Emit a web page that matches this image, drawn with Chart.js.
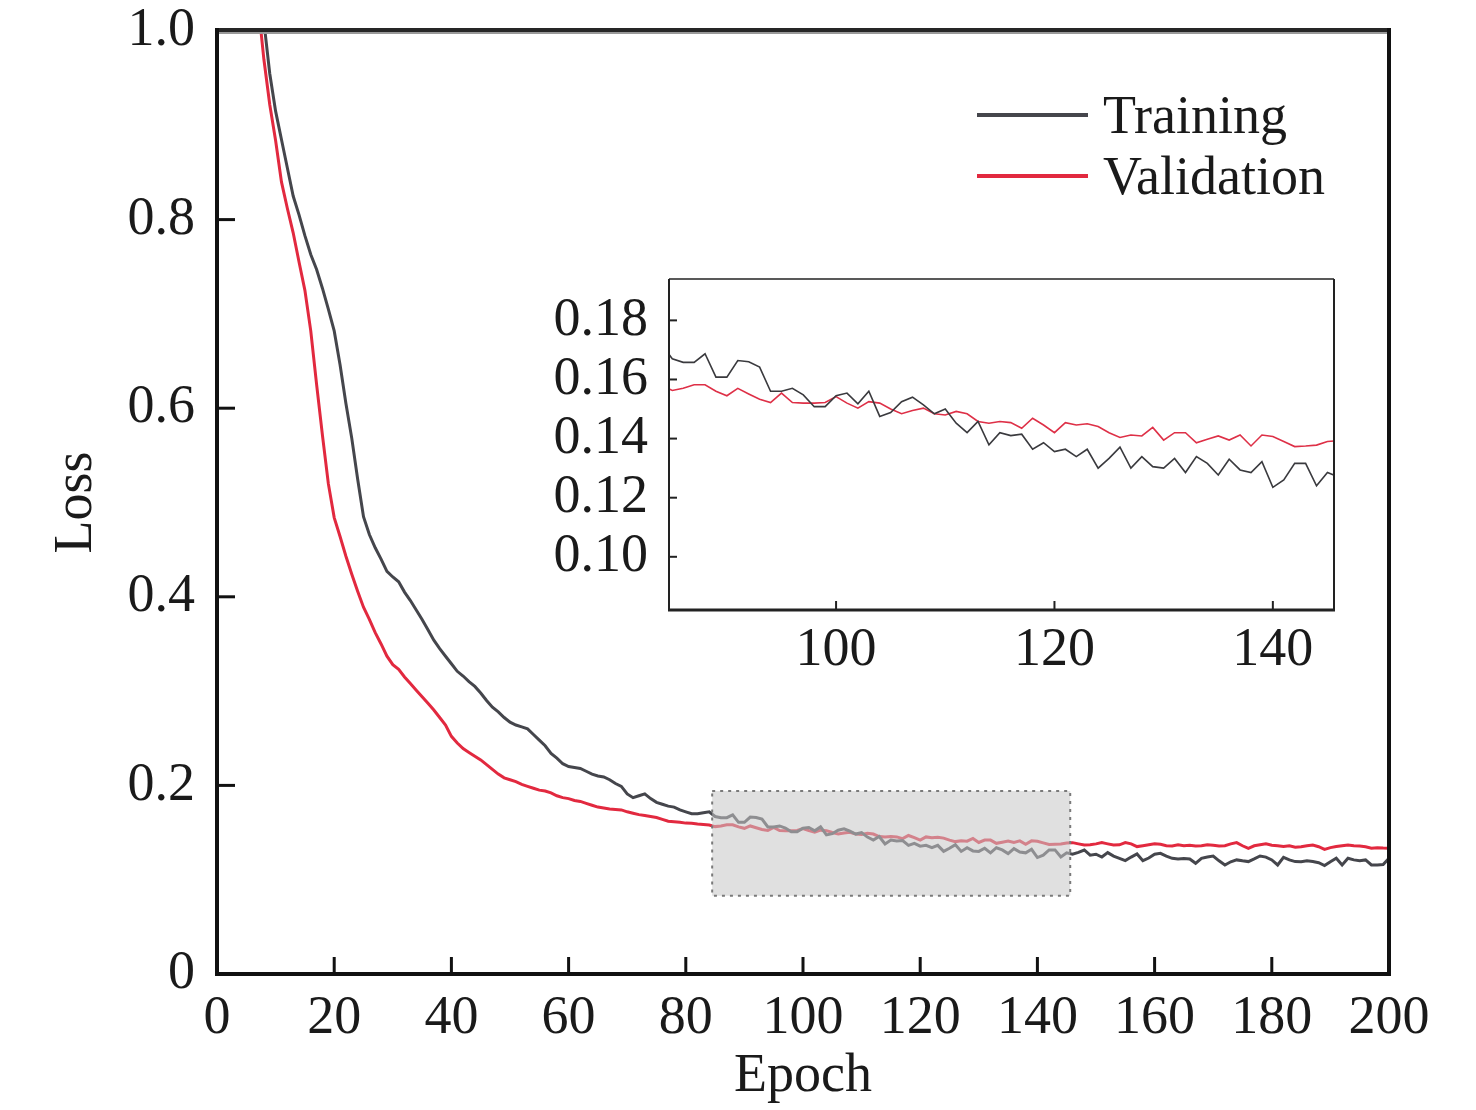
<!DOCTYPE html>
<html>
<head>
<meta charset="utf-8">
<script src="https://cdn.jsdelivr.net/npm/chart.js@4.4.0/dist/chart.umd.min.js"></script>
<style>
  html, body { margin: 0; padding: 0; background: #fff; }
  #wrap { position: relative; width: 1476px; height: 1110px; }
  .box { position: absolute; }
</style>
</head>
<body>
<div id="wrap">
  <div class="box" style="left:0;top:0;"><canvas id="main" width="1476" height="1110"></canvas></div>
  <div class="box" style="left:540px;top:270px;"><canvas id="inset" width="810" height="410"></canvas></div>
</div>
<script>
// data
const epochs = Array.from({ length: 200 }, (_, i) => i + 1);

const trainLoss = [
  1.60, 1.48, 1.38, 1.29, 1.21, 1.14, 1.07, 1.01, 0.955, 0.915,
  0.885, 0.855, 0.825, 0.805, 0.783, 0.763, 0.747, 0.727, 0.705, 0.682,
  0.646, 0.605, 0.568, 0.525, 0.485, 0.466, 0.452, 0.440, 0.427, 0.421,
  0.416, 0.405, 0.396, 0.386, 0.376, 0.365, 0.354, 0.345, 0.337, 0.329,
  0.321, 0.316, 0.310, 0.305, 0.298, 0.290, 0.283, 0.278, 0.272, 0.267,
  0.264, 0.262, 0.260, 0.254, 0.248, 0.242, 0.234, 0.229, 0.223, 0.220,
  0.219, 0.218, 0.215, 0.212, 0.210, 0.209, 0.206, 0.202, 0.199, 0.191,
  0.187, 0.189, 0.191, 0.186, 0.182, 0.180, 0.178, 0.177, 0.174, 0.172,
  0.170, 0.170, 0.171, 0.172, 0.167, 0.1658, 0.1658, 0.1687, 0.1608, 0.1608,
  0.1664, 0.166, 0.1642, 0.156, 0.156, 0.157, 0.1548, 0.1508, 0.1508, 0.1545,
  0.1554, 0.1518, 0.156, 0.1475, 0.1488, 0.1525, 0.154, 0.1514, 0.1484, 0.150,
  0.1452, 0.142, 0.1458, 0.1379, 0.142, 0.141, 0.1415, 0.1364, 0.1386, 0.1356,
  0.1364, 0.1339, 0.1364, 0.130, 0.1333, 0.1371, 0.130, 0.1339, 0.1305, 0.130,
  0.1333, 0.1285, 0.1339, 0.1316, 0.1277, 0.133, 0.1294, 0.1285, 0.1322, 0.1235,
  0.126, 0.1316, 0.1316, 0.124, 0.1285, 0.127, 0.129, 0.1315, 0.126, 0.127,
  0.124, 0.1287, 0.125, 0.1227, 0.1202, 0.124, 0.1273, 0.1202, 0.123, 0.127,
  0.128, 0.125, 0.1227, 0.122, 0.1225, 0.122, 0.1174, 0.1227, 0.124, 0.1251,
  0.120, 0.1156, 0.119, 0.121, 0.120, 0.1192, 0.122, 0.1251, 0.124, 0.121,
  0.1156, 0.1237, 0.121, 0.1192, 0.119, 0.120, 0.1192, 0.118, 0.115, 0.119,
  0.1227, 0.1156, 0.1227, 0.121, 0.1202, 0.121, 0.1156, 0.1156, 0.116, 0.1227
];

const valLoss = [
  1.55, 1.43, 1.33, 1.24, 1.16, 1.09, 1.03, 0.97, 0.922, 0.884,
  0.840, 0.812, 0.786, 0.755, 0.725, 0.682, 0.625, 0.571, 0.520, 0.484,
  0.464, 0.443, 0.424, 0.406, 0.389, 0.376, 0.362, 0.350, 0.337, 0.328,
  0.323, 0.315, 0.308, 0.301, 0.294, 0.287, 0.280, 0.272, 0.264, 0.252,
  0.245, 0.239, 0.235, 0.231, 0.227, 0.222, 0.217, 0.212, 0.208, 0.206,
  0.204, 0.201, 0.199, 0.197, 0.195, 0.194, 0.192, 0.189, 0.187, 0.186,
  0.184, 0.183, 0.181, 0.179, 0.177, 0.176, 0.175, 0.1745, 0.174, 0.172,
  0.1705, 0.169, 0.168, 0.167, 0.166, 0.164, 0.162, 0.1615, 0.161, 0.160,
  0.1598, 0.159, 0.1585, 0.158, 0.1563, 0.157, 0.1582, 0.1582, 0.156, 0.1545,
  0.157, 0.1551, 0.1533, 0.1522, 0.1554, 0.1522, 0.152, 0.152, 0.1522, 0.1542,
  0.152, 0.1503, 0.1525, 0.152, 0.150, 0.1484, 0.1495, 0.1503, 0.1484, 0.148,
  0.1492, 0.1484, 0.1458, 0.1452, 0.1458, 0.1454, 0.1435, 0.1469, 0.1446, 0.142,
  0.1454, 0.1446, 0.145, 0.1441, 0.142, 0.1404, 0.1412, 0.1409, 0.1438, 0.1395,
  0.142, 0.142, 0.1386, 0.1398, 0.1409, 0.1395, 0.1412, 0.1375, 0.1412, 0.1407,
  0.139, 0.1373, 0.1375, 0.1378, 0.139, 0.1393, 0.138, 0.1368, 0.137, 0.138,
  0.1393, 0.138, 0.1368, 0.137, 0.1393, 0.138, 0.1351, 0.136, 0.137, 0.138,
  0.1375, 0.136, 0.1358, 0.137, 0.136, 0.1365, 0.1358, 0.136, 0.137, 0.1365,
  0.1358, 0.136, 0.138, 0.1393, 0.136, 0.1333, 0.136, 0.137, 0.138, 0.1365,
  0.136, 0.1351, 0.136, 0.1344, 0.135, 0.136, 0.1368, 0.135, 0.1322, 0.134,
  0.1351, 0.136, 0.1368, 0.136, 0.1358, 0.135, 0.1333, 0.134, 0.1335, 0.1333
];

const xTicks = [0, 20, 40, 60, 80, 100, 120, 140, 160, 180, 200];
const yTicks = [0, 0.2, 0.4, 0.6, 0.8, 1.0];
const insetXTicks = [100, 120, 140];
const insetYTicks = [0.10, 0.12, 0.14, 0.16, 0.18];
const zoomX = [84.5, 145.6];
const zoomY = [0.083, 0.194];

const FONT = '"Liberation Serif", "Times New Roman", serif';
const TEXT = '#1a1a1a';
const TRAIN_COLOR = '#45464c';
const VAL_COLOR = '#e2293f';

function points(ys) {
  return epochs.map((e, i) => ({ x: e, y: ys[i] }));
}

function line(ctx, x0, y0, x1, y1) {
  ctx.beginPath();
  ctx.moveTo(x0, y0);
  ctx.lineTo(x1, y1);
  ctx.stroke();
}

// keep the label overflow from moving the plot area
function noPadX(s, h) {
  s.height = h;
  s.paddingLeft = 0;
  s.paddingRight = 0;
}
function noPadY(s, w) {
  s.width = w;
  s.paddingTop = 0;
  s.paddingBottom = 0;
}

// gray zoom box, inward ticks, frame and legend of the big chart
const mainDecor = {
  id: 'mainDecor',
  afterDatasetsDraw(chart) {
    const { ctx, chartArea: a, scales: { x, y } } = chart;
    ctx.save();

    const bx0 = x.getPixelForValue(zoomX[0]);
    const bx1 = x.getPixelForValue(zoomX[1]);
    const by0 = y.getPixelForValue(zoomY[1]);
    const by1 = y.getPixelForValue(zoomY[0]);
    ctx.fillStyle = 'rgba(200,199,199,0.56)';
    ctx.fillRect(bx0, by0, bx1 - bx0, by1 - by0);
    ctx.strokeStyle = '#7a7a7a';
    ctx.lineWidth = 2;
    ctx.setLineDash([3, 5]);
    ctx.strokeRect(bx0, by0, bx1 - bx0, by1 - by0);
    ctx.setLineDash([]);

    ctx.strokeStyle = '#111';
    ctx.lineWidth = 3;
    x.ticks.forEach(t => {
      if (t.value <= x.min || t.value >= x.max) return;
      const px = x.getPixelForValue(t.value);
      line(ctx, px, a.bottom, px, a.bottom - 17);
    });
    y.ticks.forEach(t => {
      if (t.value <= y.min || t.value >= y.max) return;
      const py = y.getPixelForValue(t.value);
      line(ctx, a.left, py, a.left + 18, py);
    });

    ctx.strokeStyle = '#999';
    ctx.lineWidth = 2;
    line(ctx, a.left, a.top + 2, a.right, a.top + 2);
    ctx.strokeStyle = '#262626';
    ctx.lineWidth = 4;
    line(ctx, a.left, a.top - 1, a.right + 2, a.top - 1);
    ctx.strokeStyle = '#111';
    line(ctx, a.left, a.top - 3, a.left, a.bottom + 2);
    line(ctx, a.left - 2, a.bottom, a.right + 2, a.bottom);
    line(ctx, a.right, a.top - 3, a.right, a.bottom + 2);

    // legend
    const items = [['Training', TRAIN_COLOR], ['Validation', VAL_COLOR]];
    ctx.font = '54px ' + FONT;
    ctx.textBaseline = 'alphabetic';
    ctx.textAlign = 'left';
    items.forEach(([label, color], i) => {
      const ly = a.top + 84 + i * 61;
      ctx.strokeStyle = color;
      ctx.lineWidth = 4;
      line(ctx, a.right - 412, ly, a.right - 301, ly);
      ctx.fillStyle = TEXT;
      ctx.fillText(label, a.right - 286, ly + 18);
    });
    ctx.restore();
  }
};

// frame and inward ticks of the inset
const insetDecor = {
  id: 'insetDecor',
  afterDatasetsDraw(chart) {
    const { ctx, chartArea: a, scales: { x, y } } = chart;
    ctx.save();
    ctx.strokeStyle = '#222';
    ctx.lineWidth = 2;
    x.ticks.forEach(t => {
      const px = x.getPixelForValue(t.value);
      line(ctx, px, a.bottom, px, a.bottom - 9);
    });
    y.ticks.forEach(t => {
      const py = y.getPixelForValue(t.value);
      line(ctx, a.left, py, a.left + 8, py);
    });
    ctx.lineWidth = 1.5;
    line(ctx, a.left, a.top, a.right, a.top);
    ctx.lineWidth = 2;
    line(ctx, a.left, a.top, a.left, a.bottom);
    line(ctx, a.right, a.top, a.right, a.bottom);
    ctx.lineWidth = 3;
    line(ctx, a.left - 1, a.bottom, a.right + 1, a.bottom);
    ctx.restore();
  }
};

const tickFont = { family: FONT, size: 54 };

new Chart(document.getElementById('main'), {
  type: 'line',
  data: {
    datasets: [
      { label: 'Training', data: points(trainLoss), borderColor: TRAIN_COLOR, borderWidth: 3 },
      { label: 'Validation', data: points(valLoss), borderColor: VAL_COLOR, borderWidth: 3 }
    ]
  },
  options: {
    responsive: false,
    animation: false,
    layout: { padding: { top: 31, right: 87, left: 0, bottom: 0 } },
    elements: { point: { radius: 0 }, line: { tension: 0 } },
    plugins: { legend: { display: false }, tooltip: { enabled: false } },
    scales: {
      x: {
        type: 'linear',
        min: 0,
        max: 200,
        afterBuildTicks: s => { s.ticks = xTicks.map(v => ({ value: v })); },
        afterFit: s => noPadX(s, 136),
        grid: { display: false, drawTicks: false },
        border: { display: false },
        ticks: { font: tickFont, color: TEXT, padding: 12, maxRotation: 0, autoSkip: false },
        title: { display: true, text: 'Epoch', font: tickFont, color: TEXT, padding: { top: 0, bottom: 1 } }
      },
      y: {
        type: 'linear',
        min: 0,
        max: 1,
        afterBuildTicks: s => { s.ticks = yTicks.map(v => ({ value: v })); },
        afterFit: s => noPadY(s, 217),
        grid: { display: false, drawTicks: false },
        border: { display: false },
        ticks: {
          font: tickFont, color: TEXT, padding: 22,
          callback: v => (v === 0 ? '0' : v.toFixed(1))
        },
        title: { display: true, text: 'Loss', font: tickFont, color: TEXT, padding: { top: 44, bottom: 0 } }
      }
    }
  },
  plugins: [mainDecor]
});

new Chart(document.getElementById('inset'), {
  type: 'line',
  data: {
    datasets: [
      { label: 'Training', data: points(trainLoss), borderColor: '#3a3a3e', borderWidth: 1.6 },
      { label: 'Validation', data: points(valLoss), borderColor: '#de3047', borderWidth: 1.6 }
    ]
  },
  options: {
    responsive: false,
    animation: false,
    layout: { padding: { top: 9, right: 16, left: 0, bottom: 0 } },
    elements: { point: { radius: 0 }, line: { tension: 0 } },
    plugins: { legend: { display: false }, tooltip: { enabled: false } },
    scales: {
      x: {
        type: 'linear',
        min: zoomX[0] + 0.2,
        max: zoomX[1],
        afterBuildTicks: s => { s.ticks = insetXTicks.map(v => ({ value: v })); },
        afterFit: s => noPadX(s, 70),
        grid: { display: false, drawTicks: false },
        border: { display: false },
        ticks: { font: tickFont, color: TEXT, padding: 8, maxRotation: 0, autoSkip: false }
      },
      y: {
        type: 'linear',
        min: 0.082,
        max: zoomY[1],
        afterBuildTicks: s => { s.ticks = insetYTicks.map(v => ({ value: v })); },
        afterFit: s => noPadY(s, 129),
        grid: { display: false, drawTicks: false },
        border: { display: false },
        ticks: { font: tickFont, color: TEXT, padding: 21, callback: v => v.toFixed(2) }
      }
    }
  },
  plugins: [insetDecor]
});
</script>
</body>
</html>
